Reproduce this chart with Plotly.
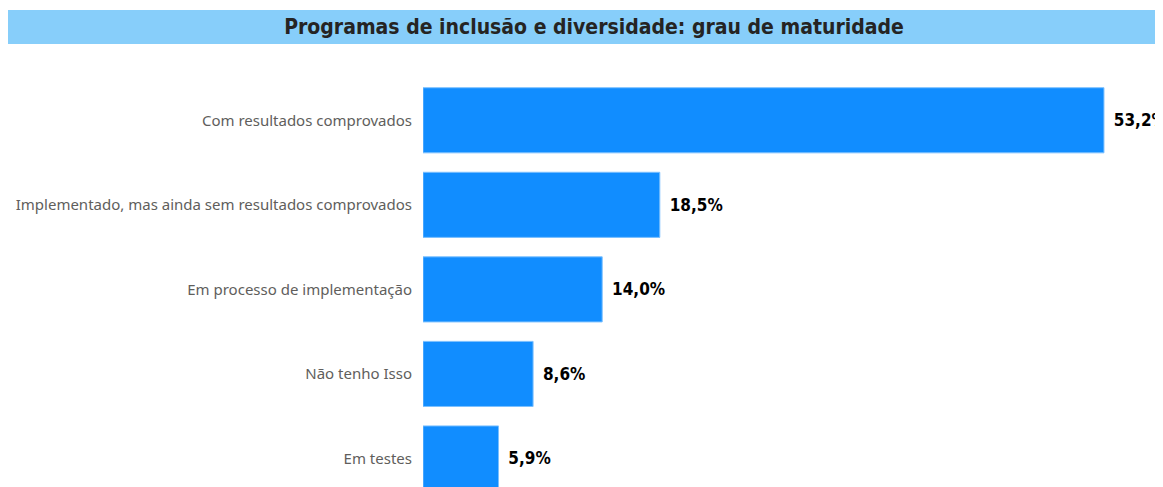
import plotly.graph_objects as go

# Data
categories = [
    'Com resultados comprovados',
    'Implementado, mas ainda sem resultados comprovados',
    'Em processo de implementação',
    'Não tenho Isso',
    'Em testes',
]
values = [53.2, 18.5, 14.0, 8.6, 5.9]
title_text = 'Programas de inclusão e diversidade: grau de maturidade'

BAR = '#118DFF'
W, H = 1163, 487
OFF = 8                      # page body margin
L, T = 423 - OFF, 78 - OFF   # plot area left / top inside figure
B = H - (487 - OFF)          # plot bottom sits at the window's bottom edge
R = OFF                      # plot right sits at the window's right edge
PH = H - T - B
PW = W - L - R


def py(fig_y):
    """figure pixel y -> paper y"""
    return (H - B - fig_y) / PH


def px(fig_x):
    """figure pixel x -> paper x"""
    return (fig_x - L) / PW


labels = ['\u00a0\u200a' + f'{v:.1f}'.replace('.', ',') + '%' for v in values]

fig = go.Figure(go.Bar(
    x=values, y=categories, orientation='h',
    marker=dict(color=BAR, line=dict(color='#7cc0ff', width=1)),
    width=0.77,
    text=labels, textposition='outside', cliponaxis=False,
    textfont=dict(family='"DejaVu Sans Condensed", Roboto, sans-serif', size=17,
                  color='#000000', weight='bold'),
    hoverinfo='skip',
))

fig.update_layout(
    width=W, height=H,
    paper_bgcolor='white', plot_bgcolor='white',
    margin=dict(l=L, r=R, t=T, b=B, autoexpand=False),
    showlegend=False,
    title=dict(
        text=f'<b>{title_text}</b>',
        x=(594 - OFF) / W, xanchor='center', xref='container',
        y=1 - (27 - OFF) / H, yanchor='middle', yref='container',
        font=dict(family='"Liberation Sans Narrow", "DejaVu Sans Condensed", sans-serif',
                  size=21, color='#252423'),
    ),
    shapes=[dict(
        type='rect', xref='paper', yref='paper', layer='below',
        x0=px(-10), x1=px(W + 10), y0=py(44 - OFF), y1=py(10 - OFF),
        fillcolor='#87CEFA', line=dict(width=0),
    )],
    xaxis=dict(range=[0, PW / 12.8], visible=False, fixedrange=True),
    yaxis=dict(
        range=[4 + (487 - 458.5) / 84.5, -0.5],
        showgrid=False, zeroline=False, showline=False, ticks='',
        ticklabelstandoff=10,
        tickfont=dict(family='"Noto Sans", "Open Sans", sans-serif', size=15, color='#605E5C'),
    ),
)

fig.write_html('out.html')
